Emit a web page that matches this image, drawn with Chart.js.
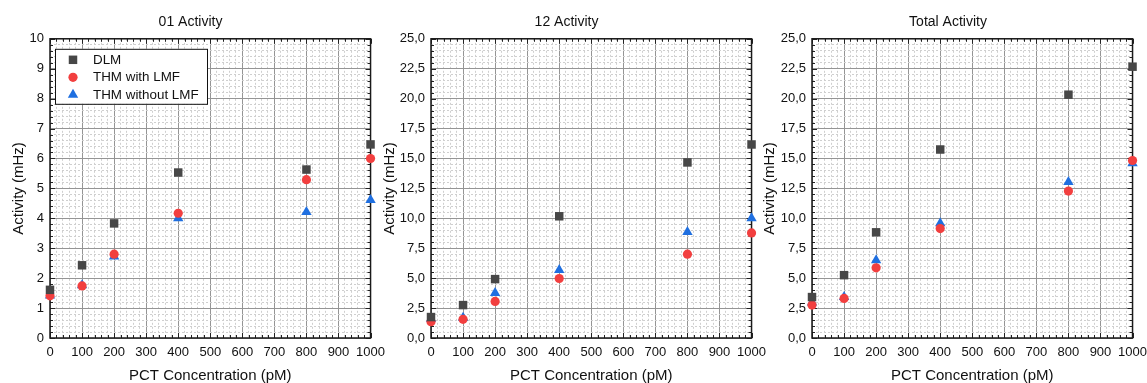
<!DOCTYPE html>
<html>
<head>
<meta charset="utf-8">
<script src="https://cdn.jsdelivr.net/npm/chart.js@4.4.0/dist/chart.umd.min.js"></script>
<style>
    html, body { margin: 0; padding: 0; background: #fff; }
    body { width: 1147px; height: 383px; position: relative; overflow: hidden; }
    canvas { position: absolute; top: 0; }
</style>
</head>
<body>
<canvas id="p1" width="392" height="385" style="left:0px"></canvas>
<canvas id="p2" width="403" height="385" style="left:370px"></canvas>
<canvas id="p3" width="404" height="385" style="left:750px"></canvas>
<script>
// PCT concentration (pM)
const concentrations = [0, 100, 200, 400, 800, 1000];
const seriesNames = ["DLM", "THM with LMF", "THM without LMF"];
const panelTitles = ["01 Activity", "12 Activity", "Total Activity"];

// 01 activity (mHz)
const dlm01 = [1.61, 2.43, 3.83, 5.53, 5.63, 6.47];
const thmLmf01 = [1.41, 1.74, 2.80, 4.17, 5.29, 6.00];
const thmNoLmf01 = [1.42, 1.76, 2.72, 4.00, 4.21, 4.61];

// 12 activity (mHz)
const dlm12 = [1.75, 2.75, 4.92, 10.17, 14.67, 16.17];
const thmLmf12 = [1.36, 1.56, 3.06, 4.97, 7.00, 8.78];
const thmNoLmf12 = [1.61, 1.69, 3.75, 5.69, 8.86, 10.00];

// total activity (mHz)
const dlmTotal = [3.42, 5.25, 8.83, 15.75, 20.33, 22.67];
const thmLmfTotal = [2.75, 3.31, 5.86, 9.14, 12.28, 14.83];
const thmNoLmfTotal = [2.97, 3.42, 6.50, 9.58, 13.03, 14.61];

// axis ranges / tick steps
const xMax = 1000, xMajor = 100, xMinor = 20;
const yMaxes = [10, 25, 25];
const yMajors = [1, 2.5, 2.5];
const yMinors = [0.2, 0.5, 0.5];

const FONT = "'Liberation Sans', Arial, sans-serif";
const styles = [
    { pointStyle: "rect", radius: 6, color: "#474747" },
    { pointStyle: "circle", radius: 4.6, color: "#f23f3f" },
    { pointStyle: "triangle", radius: 6, color: "#1f6fe0" },
];

const isMajor = (v, step) => Math.abs(v / step - Math.round(v / step)) < 1e-6;

// frame + inward ticks on all four sides
const framePlugin = {
    id: "frame",
    beforeDatasetsDraw(chart) {
        const { ctx, chartArea: a, scales } = chart;
        ctx.save();
        ctx.strokeStyle = "#222";
        ctx.lineWidth = 1;
        scales.x.ticks.forEach(t => {
            const px = Math.round(scales.x.getPixelForValue(t.value)) + 0.5;
            const len = isMajor(t.value, xMajor) ? 5 : 3;
            ctx.beginPath();
            ctx.moveTo(px, a.bottom); ctx.lineTo(px, a.bottom - len);
            ctx.moveTo(px, a.top); ctx.lineTo(px, a.top + len);
            ctx.stroke();
        });
        const yStep = chart.options.scales.y.majorStep;
        scales.y.ticks.forEach(t => {
            const py = Math.round(scales.y.getPixelForValue(t.value)) + 0.5;
            const len = isMajor(t.value, yStep) ? 5 : 3;
            ctx.beginPath();
            ctx.moveTo(a.left, py); ctx.lineTo(a.left + len, py);
            ctx.moveTo(a.right, py); ctx.lineTo(a.right - len, py);
            ctx.stroke();
        });
        ctx.lineWidth = 1.5;
        ctx.strokeStyle = "#1a1a1a";
        ctx.strokeRect(a.left, a.top, a.right - a.left, a.bottom - a.top);
        ctx.restore();
    }
};

// legend box inside the first panel
const legendPlugin = {
    id: "boxLegend",
    afterDraw(chart) {
        const { ctx, chartArea: a } = chart;
        const x0 = a.left + 5, y0 = a.top + 10, w = 152, h = 55;
        ctx.save();
        ctx.fillStyle = "#fff";
        ctx.fillRect(x0, y0, w, h);
        ctx.strokeStyle = "#111";
        ctx.lineWidth = 1;
        ctx.strokeRect(x0 + 0.5, y0 + 0.5, w, h);
        chart.data.datasets.forEach((ds, i) => {
            const cy = y0 + 11 + i * 17.5;
            ctx.fillStyle = ds.backgroundColor;
            Chart.helpers.drawPoint(ctx, {
                pointStyle: ds.pointStyle, radius: ds.pointRadius, rotation: 0, borderWidth: 0
            }, x0 + 18, cy);
            ctx.fillStyle = "#111";
            ctx.font = "13.4px " + FONT;
            ctx.textBaseline = "middle";
            ctx.fillText(ds.label, x0 + 38, cy + 0.5);
        });
        ctx.restore();
    }
};

function makePanel(id, idx, values, layout) {
    const yMax = yMaxes[idx], yMajor = yMajors[idx], yMinor = yMinors[idx];
    const datasets = values.map((vals, i) => ({
        label: seriesNames[i],
        data: concentrations.map((c, j) => ({ x: c, y: vals[j] })),
        pointStyle: styles[i].pointStyle,
        pointRadius: styles[i].radius,
        backgroundColor: styles[i].color,
        borderColor: styles[i].color,
        borderWidth: 0,
        showLine: false,
        clip: false,
    }));
    const gridOpts = step => ({
        drawTicks: false,
        color: c => isMajor(c.tick.value, step) ? "#959595" : "#cfcfcf",
        lineWidth: 1,
    });
    const borderOpts = step => ({
        display: false,
        dash: c => isMajor(c.tick.value, step) ? [] : [2, 2],
    });
    new Chart(document.getElementById(id), {
        type: "scatter",
        data: { datasets },
        plugins: idx === 0 ? [framePlugin, legendPlugin] : [framePlugin],
        options: {
            responsive: false,
            animation: false,
            layout: { padding: { left: layout.padLeft, right: layout.padRight, top: 0, bottom: 0 } },
            plugins: {
                legend: { display: false },
                tooltip: { enabled: false },
                title: {
                    display: true,
                    text: panelTitles[idx],
                    color: "#111",
                    font: { family: FONT, size: 14, weight: "normal" },
                    padding: { top: 14, bottom: 8 },
                },
            },
            scales: {
                x: {
                    type: "linear",
                    min: 0, max: xMax,
                    afterFit: s => { s.height = 47; },
                    grid: gridOpts(xMajor),
                    border: borderOpts(xMajor),
                    ticks: {
                        stepSize: xMinor,
                        maxTicksLimit: 200,
                        autoSkip: false,
                        maxRotation: 0,
                        padding: 7,
                        color: "#111",
                        font: { family: FONT, size: 13 },
                        callback: v => isMajor(v, xMajor) ? String(Math.round(v)) : "",
                    },
                    title: {
                        display: true,
                        text: "PCT Concentration (pM)",
                        color: "#111",
                        font: { family: FONT, size: 15 },
                        padding: { top: 4, bottom: 0 },
                    },
                },
                y: {
                    type: "linear",
                    min: 0, max: yMax,
                    majorStep: yMajor,
                    afterFit: s => { s.width = layout.yWidth; },
                    grid: gridOpts(yMajor),
                    border: borderOpts(yMajor),
                    ticks: {
                        stepSize: yMinor,
                        maxTicksLimit: 200,
                        autoSkip: false,
                        padding: 6,
                        color: "#111",
                        font: { family: FONT, size: 13 },
                        callback: v => {
                            if (!isMajor(v, yMajor)) return "";
                            return yMajor % 1 === 0 ? String(Math.round(v)) : v.toFixed(1).replace(".", ",");
                        },
                    },
                    title: {
                        display: true,
                        text: "Activity (mHz)",
                        color: "#111",
                        font: { family: FONT, size: 15 },
                        padding: { top: 5, bottom: 4 },
                    },
                },
            },
        },
    });
}

makePanel("p1", 0, [dlm01, thmLmf01, thmNoLmf01], { padLeft: 5, padRight: 16, yWidth: 45 });
makePanel("p2", 1, [dlm12, thmLmf12, thmNoLmf12], { padLeft: 6, padRight: 16, yWidth: 55 });
makePanel("p3", 2, [dlmTotal, thmLmfTotal, thmNoLmfTotal], { padLeft: 6, padRight: 14, yWidth: 56 });
</script>
</body>
</html>
